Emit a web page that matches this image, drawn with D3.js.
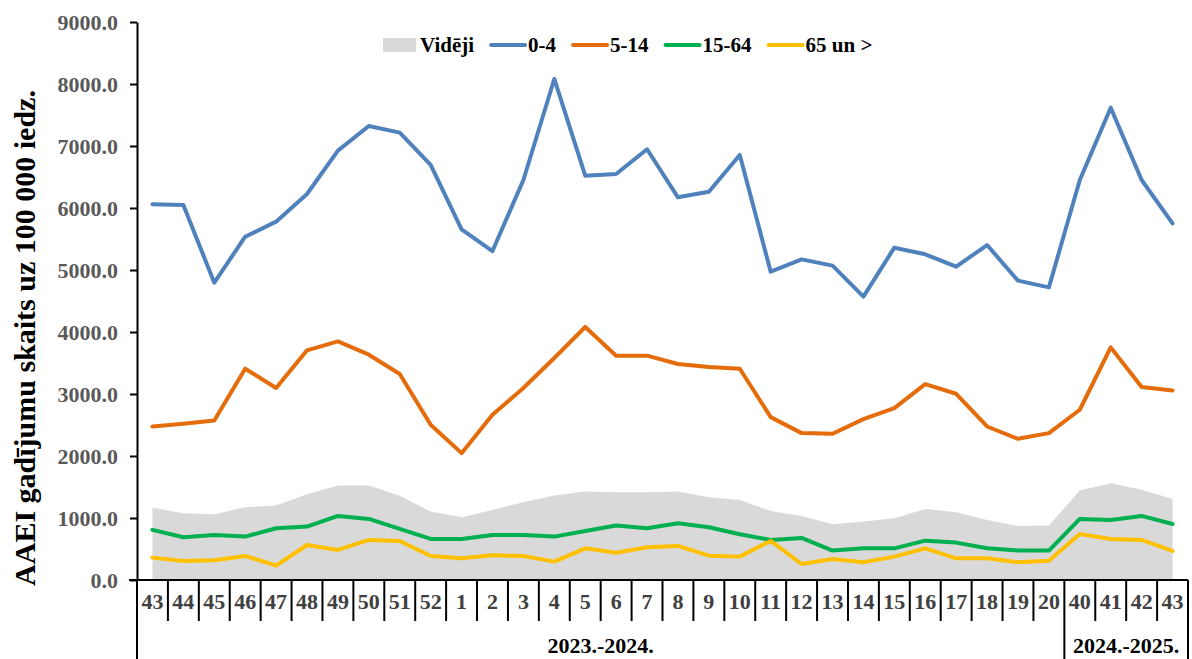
<!DOCTYPE html>
<html>
<head>
<meta charset="utf-8">
<script src="https://cdnjs.cloudflare.com/ajax/libs/d3/7.8.5/d3.min.js"></script>
<style>
  html, body { margin: 0; padding: 0; background: #fff; }
  svg { display: block; font-family: "Liberation Serif", "Times New Roman", serif; font-weight: bold; }
</style>
</head>
<body>
<svg id="chart" width="1192" height="659"></svg>
<script>
// ---- data ----
const weeks = ["43","44","45","46","47","48","49","50","51","52","1","2","3","4","5","6","7","8","9","10","11","12","13","14","15","16","17","18","19","20","40","41","42","43"];
const seasons = ["2023.-2024.", "2024.-2025."];
const seasonSizes = [30, 4];
const avgValues = [1168,1077,1061,1174,1201,1384,1524,1524,1357,1104,1013,1131,1255,1362,1427,1416,1416,1427,1335,1292,1114,1034,899,942,996,1147,1093,969,872,878,1443,1561,1454,1308];
const age0_4 = [6060,6048,4795,5537,5780,6226,6925,7323,7215,6694,5656,5306,6452,8081,6521,6548,6947,6172,6263,6855,4973,5172,5070,4570,5360,5253,5054,5403,4828,4720,6452,7618,6452,5753];
const age5_14 = [2476,2520,2573,3408,3096,3704,3849,3634,3322,2503,2046,2665,3096,3580,4081,3618,3618,3483,3435,3408,2627,2369,2358,2595,2773,3160,3004,2476,2277,2369,2746,3752,3112,3058];
const age15_64 = [808,689,727,700,834,861,1034,985,824,662,662,727,727,700,791,878,834,915,851,738,646,678,474,511,511,635,603,511,474,474,985,969,1034,904];
const age65 = [361,307,318,388,231,565,485,646,630,388,350,398,388,296,511,441,528,549,393,377,630,258,339,285,377,511,350,350,285,312,743,662,646,468];
const yTicks = [0,1000,2000,3000,4000,5000,6000,7000,8000,9000];
const yTitle = "AAEI gadījumu skaits uz 100 000 iedz.";
const avgLabel = "Vidēji";
const seriesNames = ["0-4","5-14","15-64","65 un >"];
const seriesColors = ["#4F81BD","#E46C0A","#00B050","#FFC000"];

// ---- layout ----
const svg = d3.select("#chart");
const mLeft = 137, mRight = 1188, mTop = 22, mBottom = 580;
const idx = d3.range(weeks.length);
const x = d3.scaleBand().domain(idx).range([mLeft, mRight]).padding(0);
const cx = i => x(i) + x.bandwidth() / 2;
const y = d3.scaleLinear().domain([0, 9000]).range([mBottom, mTop]);

// average area
const area = d3.area().x((d, i) => cx(i)).y0(y(0)).y1(d => y(d));
svg.append("path").datum(avgValues).attr("d", area).attr("fill", "#D9D9D9");

// lines
const series = [age0_4, age5_14, age15_64, age65];
const line = d3.line().x((d, i) => cx(i)).y(d => y(d));
series.forEach((s, k) => {
  svg.append("path").datum(s).attr("d", line)
    .attr("fill", "none").attr("stroke", seriesColors[k])
    .attr("stroke-width", 4).attr("stroke-linejoin", "round").attr("stroke-linecap", "round");
});

// y axis
const yAxis = d3.axisLeft(y).tickValues(yTicks).tickFormat(d3.format(".1f")).tickSize(7).tickSizeOuter(0);
const gy = svg.append("g").attr("transform", `translate(${mLeft},0)`).call(yAxis);
gy.select(".domain").attr("stroke", "#000").attr("stroke-width", 2);
gy.selectAll(".tick line").attr("stroke", "#000").attr("stroke-width", 2);
gy.selectAll(".tick text").attr("x", -19).attr("font-size", 22).attr("font-weight", "bold")
  .attr("fill", "#595959").attr("font-family", "Liberation Serif");

// x axis line
svg.append("line").attr("x1", mLeft - 8).attr("x2", mRight).attr("y1", mBottom).attr("y2", mBottom)
  .attr("stroke", "#000").attr("stroke-width", 2);

// category separators
const groupBounds = [0];
seasonSizes.forEach(n => groupBounds.push(groupBounds[groupBounds.length - 1] + n));
d3.range(weeks.length + 1).forEach(k => {
  const xx = k < weeks.length ? x(k) : mRight;
  const full = groupBounds.includes(k);
  svg.append("line").attr("x1", xx).attr("x2", xx).attr("y1", mBottom).attr("y2", full ? 659 : 621)
    .attr("stroke", "#000").attr("stroke-width", 2);
});

// x labels
svg.append("g").selectAll("text").data(weeks).join("text")
  .attr("x", (d, i) => cx(i)).attr("y", 609).attr("text-anchor", "middle")
  .attr("font-size", 22).attr("fill", "#404040").text(d => d);

// season labels
seasons.forEach((s, g) => {
  const a = x(groupBounds[g]);
  const b = groupBounds[g + 1] < weeks.length ? x(groupBounds[g + 1]) : mRight;
  svg.append("text").attr("x", (a + b) / 2).attr("y", 653).attr("text-anchor", "middle")
    .attr("font-size", 22).attr("fill", "#000").text(s);
});

// y title
svg.append("text").attr("transform", `translate(35,${(mTop + mBottom) / 2 + 37}) rotate(-90)`)
  .attr("text-anchor", "middle").attr("font-size", 30).attr("fill", "#000").text(yTitle);

// legend
const leg = svg.append("g");
let lx = 383;
const ly = 45;
const items = [{name: avgLabel, type: "box", color: "#D9D9D9"}]
  .concat(seriesNames.map((n, k) => ({name: n, type: "line", color: seriesColors[k]})));
items.forEach(it => {
  if (it.type === "box") {
    leg.append("rect").attr("x", lx).attr("y", ly - 7).attr("width", 33).attr("height", 14).attr("fill", it.color);
  } else {
    leg.append("line").attr("x1", lx).attr("x2", lx + 34).attr("y1", ly).attr("y2", ly)
      .attr("stroke", it.color).attr("stroke-width", 4).attr("stroke-linecap", "round");
  }
  const t = leg.append("text").attr("x", lx + 37).attr("y", ly + 7).attr("font-size", 21)
    .attr("fill", "#000").text(it.name);
  lx = lx + 37 + t.node().getComputedTextLength() + 17;
});
</script>
</body>
</html>
